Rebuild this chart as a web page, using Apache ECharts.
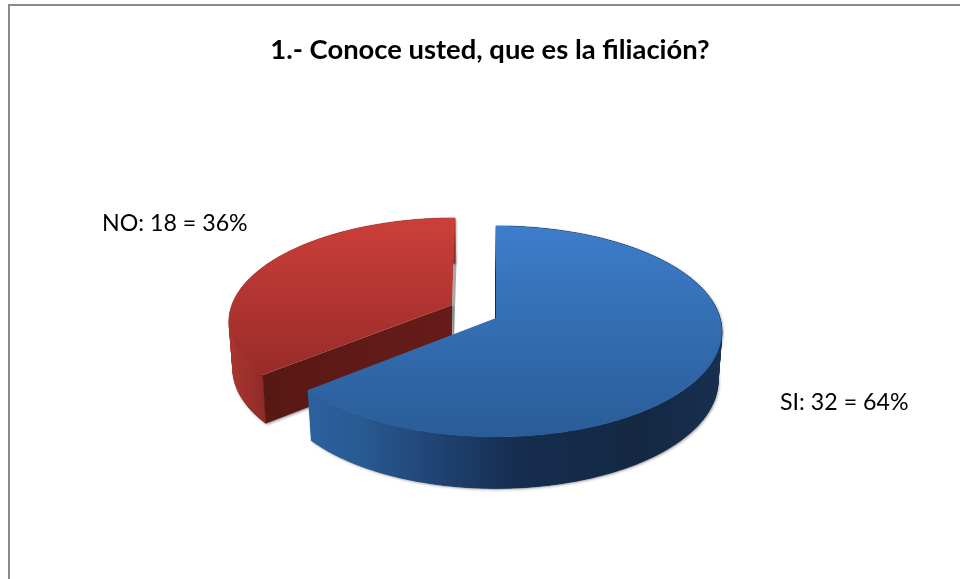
<!DOCTYPE html>
<html><head><meta charset="utf-8">
<style>html,body{margin:0;padding:0;background:#fff}#c{width:960px;height:579px}</style>
<script src="https://cdn.jsdelivr.net/npm/echarts@6/dist/echarts.min.js"></script>
</head><body><div id="c"></div>
<script>
const chartTitle = '1.- Conoce usted, que es la filiación?';
const categories = ['SI', 'NO'];
const counts = [32, 18];
const percents = [64, 36];

// Perspective model of each exploded slice (a plane circle under a projective view)
const sliceViews = {
  SI: { cx: 496, cy: 318, R: 224, S: 103.8, k: 0.128, skew: 0, wallDy: 49, wallScale: 0.983, farDx: -1, z: 20,
        labelX: 780, labelY: 403,
        top: ['#3d7dca', '#2a5c98'],
        wallX: [310, 722],
        wall: [[0, '#2c619f'], [0.12, '#285a92'], [0.35, '#1d3e6c'], [0.5, '#162d50'], [0.8, '#142842'], [1, '#182f50']],
        far: '#16294a' },
  NO: { cx: 452, cy: 305, R: 220, S: 99.7, k: 0.146, skew: 0.035, wallDy: 47, wallScale: 0.983, farDx: 1.5, z: 10,
        labelX: 102, labelY: 224,
        top: ['#cc3f3a', '#982b28'],
        wallX: [229, 268],
        wall: [[0, '#aa3532'], [1, '#8e2a27']],
        far: '#a8a8a8',
        cut: [[0, '#571814'], [1, '#671c19']] }
};

const total = counts.reduce((a, b) => a + b, 0);
const starts = [];
counts.reduce((acc, v, i) => { starts[i] = acc; return acc + v; }, 0);

function project(v, deg) {
  const a = deg * Math.PI / 180;
  const w = 1 + v.k * Math.cos(a);
  const X = v.R * Math.sin(a) / w, Y = -v.S * Math.cos(a) / w;
  return [v.cx + X - v.skew * Y, v.cy + Y];
}
function lower(v, p, dx) {
  return [v.cx + (p[0] - v.cx) * v.wallScale + (dx || 0), v.cy + (p[1] - v.cy) * 1.02 + v.wallDy];
}
function arc(v, from, to) {
  const pts = [];
  for (let d = from; d < to; d += 1) pts.push(project(v, d));
  pts.push(project(v, to));
  return pts;
}
function grad(x0, y0, x1, y1, stops, global) {
  return new echarts.graphic.LinearGradient(x0, y0, x1, y1,
    stops.map(s => ({ offset: s[0], color: s[1] })), global);
}
const shadow = { shadowColor: 'rgba(0,0,0,0.45)', shadowBlur: 3, shadowOffsetY: 1, shadowOffsetX: 1 };

function renderSlice(params, api) {
  const i = params.dataIndex;
  const name = categories[i];
  const v = sliceViews[name];
  const a0 = starts[i] / total * 360;
  const a1 = (starts[i] + api.value(0)) / total * 360;
  const centre = [v.cx, v.cy];
  const rim = arc(v, a0, a1);
  const floor = rim.map(p => lower(v, p));
  const centreLow = lower(v, centre);
  const children = [];
  const poly = (points, style, z) => ({ type: 'polygon', z2: v.z + z, shape: { points }, style });

  // far radial wall (only a sliver shows)
  const lastRim = project(v, 360);
  children.push(poly([centre, lastRim, lower(v, lastRim, v.farDx), lower(v, centre, v.farDx)], { fill: v.far }, 0));

  // outer wall: a shadow-casting base, then one band per step so the silhouette is filled
  const wallFill = grad(v.wallX[0], 0, v.wallX[1], 0, v.wall, true);
  children.push(poly(rim.concat(floor.slice().reverse()),
    Object.assign({ fill: wallFill }, shadow), 1));
  for (let n = 0; n + 1 < rim.length; n++) {
    children.push(poly([rim[n], rim[n + 1], floor[n + 1], floor[n]],
      { fill: wallFill, stroke: wallFill, lineWidth: 0.6 }, 2));
  }

  // near radial wall
  if (v.cut) {
    const tip = project(v, a0);
    children.push(poly([centre, tip, lower(v, tip), centreLow],
      Object.assign({ fill: grad(tip[0], 0, centre[0], 0, v.cut, true) }, shadow), 3));
  }
  // top face
  children.push(poly([centre].concat(rim), { fill: grad(0, 0, 0, 1, [[0, v.top[0]], [1, v.top[1]]]) }, 4));
  children.push({
    type: 'text', z2: 50,
    style: {
      x: v.labelX, y: v.labelY, verticalAlign: 'middle',
      text: name + ': ' + api.value(0) + ' = ' + percents[i] + '%',
      font: '23.2px Lato', fill: '#000'
    }
  });
  return { type: 'group', children };
}

const chart = echarts.init(document.getElementById('c'), null, { renderer: 'canvas' });
chart.setOption({
  animation: false,
  backgroundColor: '#fff',
  title: {
    text: chartTitle, left: 485, top: 32, textAlign: 'center',
    textStyle: { fontFamily: 'Lato', fontSize: 27.4, fontWeight: 'bold', color: '#000' }
  },
  graphic: [{
    type: 'rect', z: -1, silent: true,
    shape: { x: 9, y: 5, width: 1200, height: 900 },
    style: { fill: 'none', stroke: '#8a8a8a', lineWidth: 2 }
  }],
  series: [{
    type: 'custom', coordinateSystem: 'none', silent: true,
    renderItem: renderSlice,
    data: counts.map(v => [v])
  }]
});
</script></body></html>
